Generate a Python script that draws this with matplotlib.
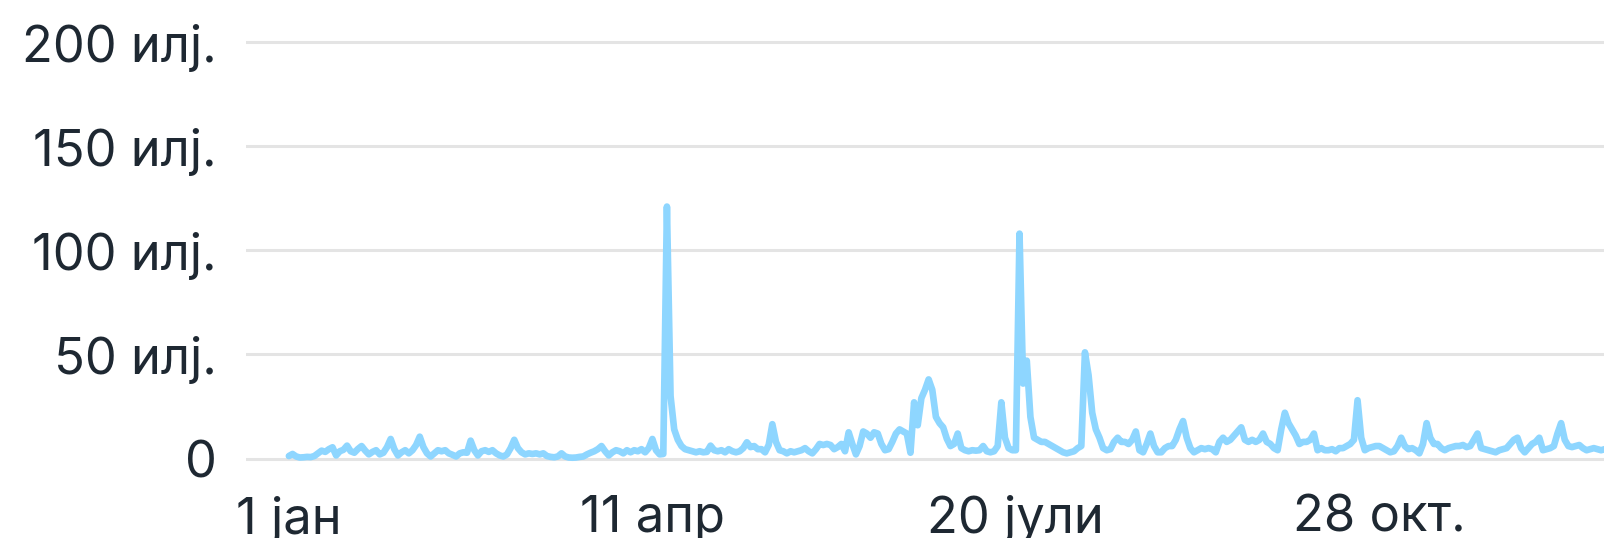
import matplotlib
matplotlib.use("Agg")
import matplotlib.pyplot as plt
import numpy as np

plt.rcParams['font.family'] = ['Inter', 'DejaVu Sans']

# дневни вредности (во илјади), од 1 јан
vrednosti = [
    1.2, 2.2, 1.0, 0.5, 0.6, 0.8, 0.7, 1.2, 2.5, 3.8,
    3.2, 4.5, 5.4, 1.5, 3.5, 4.2, 6.2, 3.5, 2.8, 4.6,
    6.0, 3.8, 2.0, 3.2, 4.0, 2.0, 2.8, 5.5, 9.4, 4.5,
    1.5, 3.0, 4.0, 2.5, 4.0, 6.5, 10.5, 5.5, 2.5, 1.0,
    2.5, 4.0, 3.5, 4.0, 2.5, 1.8, 1.0, 2.5, 3.0, 2.8,
    8.6, 4.0, 1.5, 3.5, 4.0, 3.2, 4.0, 2.5, 1.5, 1.0,
    2.0, 5.0, 9.0, 5.0, 3.0, 2.0, 2.5, 2.2, 2.5, 2.0,
    2.5, 1.2, 0.8, 0.6, 1.0, 2.5, 1.0, 0.5, 0.4, 0.5,
    0.8, 1.0, 2.0, 2.8, 3.5, 4.5, 6.0, 3.5, 1.5, 3.0,
    4.0, 3.5, 2.5, 4.0, 3.0, 4.0, 3.5, 4.5, 3.0, 5.0,
    9.4, 4.0, 2.0, 2.2, 121, 30, 14, 9, 6, 4.5,
    4.0, 3.5, 3.0, 3.5, 3.0, 3.2, 6.2, 4.0, 3.5, 4.0,
    3.0, 4.5, 3.5, 3.0, 3.5, 5.0, 7.8, 5.5, 6.0, 4.5,
    4.5, 3.0, 6.5, 16.5, 8.0, 4.0, 3.5, 2.5, 3.5, 3.0,
    3.5, 4.0, 5.0, 3.5, 2.5, 4.5, 7.0, 6.5, 7.0, 6.5,
    4.5, 5.5, 7.0, 3.5, 12.6, 7.0, 2.0, 6.0, 13, 12,
    10, 12.6, 12, 7, 4, 4.5, 8, 12, 14, 13,
    12, 2.8, 27, 16, 29, 33, 38, 33, 20, 17,
    15, 9.5, 6, 7, 12, 5, 4, 3.5, 4, 3.8,
    4.0, 6.0, 3.5, 3.0, 3.5, 6, 27, 10, 5, 4,
    4, 108, 36, 47, 20, 10, 9, 8, 8, 7,
    6, 5, 4, 3, 2.5, 3, 3.5, 5, 6, 51,
    40, 22, 14, 10, 5, 4, 4.5, 8, 10, 8,
    8, 7, 9, 13, 4, 3, 7, 12, 6, 3,
    3, 5, 6, 6, 9, 14, 18, 10, 5, 3,
    4, 5, 4.5, 5, 4.5, 3, 8, 10, 8, 9,
    11, 13, 15, 9, 8, 9, 8, 9, 12, 8,
    7, 5, 4, 14, 22, 17, 14, 11, 7, 8,
    8, 9, 12, 4, 5, 4, 4, 4.5, 3.5, 5,
    5, 6, 7, 9, 28, 10, 4, 5, 5.5, 6,
    6, 5, 4, 3, 3.5, 6, 10, 6, 4.5, 5,
    4, 2.5, 7, 17, 10, 7, 7, 5, 4, 5,
    5.5, 6, 6, 6.5, 5.5, 6, 9, 12, 5, 4.5,
    4, 3.5, 3, 4, 4.5, 5, 7, 9, 10, 5,
    3, 5, 7, 8, 10, 4, 4.5, 5, 6, 12,
    17, 9, 6, 5.5, 6, 6.5, 5, 4, 4.5, 5,
    4.5, 4, 4.5, 4, 4,
]
denovi = np.arange(len(vrednosti))

x_tikovi = [0, 100, 200, 300]
x_oznaki = ['1 јан', '11 апр', '20 јули', '28 окт.']
y_tikovi = [0, 50, 100, 150, 200]
y_oznaki = ['0', '50 илј.', '100 илј.', '150 илј.', '200 илј.']

boja_linija = '#8ed6ff'
boja_tekst = '#1e2832'

fig = plt.figure(figsize=(16.04, 5.38), dpi=100)
ax = fig.add_axes([246 / 1604, (538 - 470) / 538, 1 - 246 / 1604, 470 / 538])

ax.plot(denovi, vrednosti, color=boja_linija, linewidth=4.8,
        solid_joinstyle='round', solid_capstyle='round', zorder=3)

ax.set_xlim(-11.8, 361.8)
ax.set_ylim(-5.5, 220.2)

ax.set_yticks(y_tikovi)
ax.set_yticklabels(y_oznaki)
ax.set_xticks(x_tikovi)
ax.set_xticklabels(x_oznaki)

ax.grid(axis='y', color='#e4e4e4', linewidth=2.2, zorder=0)
ax.grid(axis='x', visible=False)
for s in ax.spines.values():
    s.set_visible(False)

ax.tick_params(axis='both', length=0, labelsize=36.5, colors=boja_tekst)
ax.tick_params(axis='y', pad=21)
ax.tick_params(axis='x', pad=18)

fig.savefig('out.png', dpi=100)
